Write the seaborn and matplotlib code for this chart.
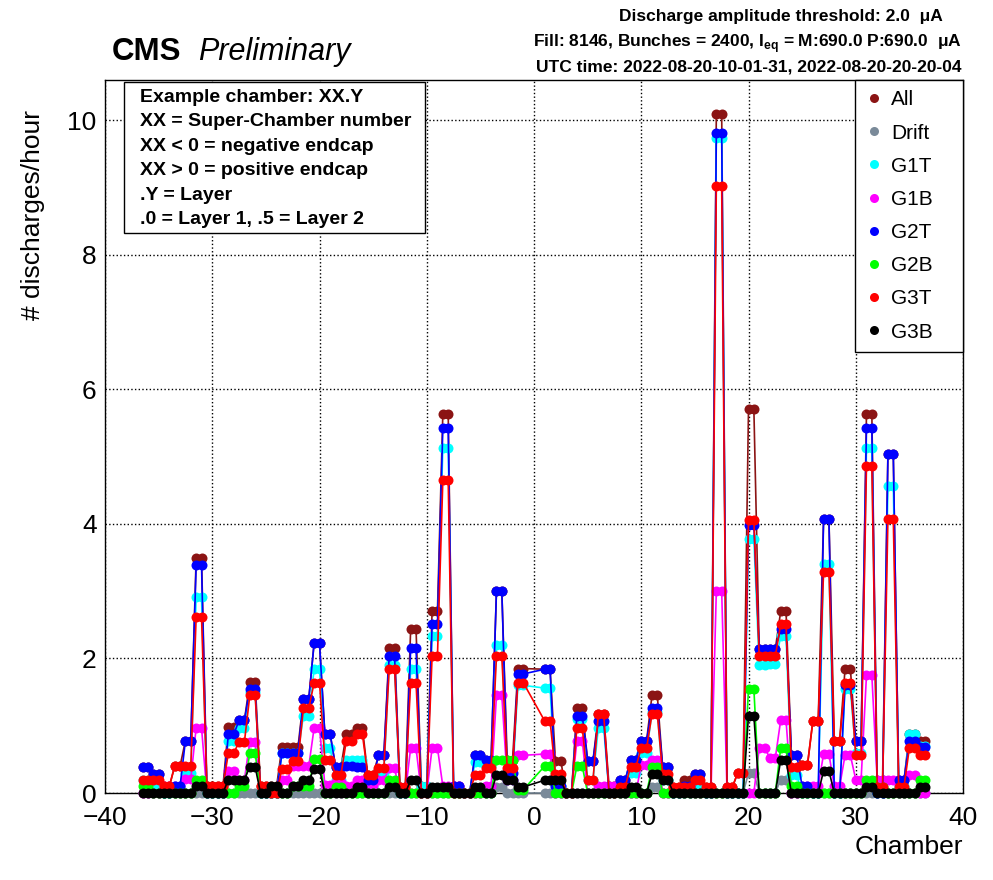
import pandas as pd
import matplotlib
matplotlib.use("Agg")
import matplotlib.pyplot as plt
import seaborn as sns
from matplotlib.lines import Line2D
from matplotlib.patches import Rectangle
from matplotlib.ticker import MultipleLocator

# chamber positions: SC -36..-1 -> (-n-0.5, -n), SC 1..36 -> (n, n+0.5)
chamber = [v for n in range(36, 0, -1) for v in (-n - 0.5, -n)] + \
          [v for n in range(1, 37) for v in (n, n + 0.5)]

# discharges/hour, two layers per super-chamber, 6 super-chambers per row
all_rate = [
    0.38, 0.38, 0.28, 0.28, 0.10, 0.10, 0.40, 0.40, 0.78, 0.78, 3.50, 3.50,
    0.10, 0.10, 0.10, 0.10, 0.98, 0.98, 1.08, 1.08, 1.65, 1.65, 0.10, 0.10,
    0.10, 0.10, 0.69, 0.69, 0.69, 0.69, 1.40, 1.40, 2.23, 2.23, 0.87, 0.87,
    0.39, 0.39, 0.88, 0.88, 0.97, 0.97, 0.27, 0.27, 0.56, 0.56, 2.15, 2.15,
    0.09, 0.09, 2.44, 2.44, 0.10, 0.10, 2.71, 2.71, 5.64, 5.64, 0.10, 0.10,
    0.00, 0.00, 0.56, 0.56, 0.49, 0.49, 3.00, 3.00, 0.49, 0.49, 1.85, 1.85,
    1.84, 1.84, 0.48, 0.48, 0.00, 0.00, 1.27, 1.27, 0.48, 0.48, 1.17, 1.17,
    0.10, 0.10, 0.19, 0.19, 0.49, 0.49, 0.78, 0.78, 1.45, 1.45, 0.38, 0.38,
    0.09, 0.09, 0.19, 0.19, 0.28, 0.28, 0.09, 0.09, 10.1, 10.1, 0.09, 0.09,
    0.30, 0.30, 5.71, 5.71, 2.14, 2.14, 2.14, 2.14, 2.70, 2.70, 0.57, 0.57,
    0.42, 0.42, 1.07, 1.07, 4.07, 4.07, 0.78, 0.78, 1.84, 1.84, 0.78, 0.78,
    5.64, 5.64, 0.19, 0.19, 5.04, 5.04, 0.19, 0.19, 0.88, 0.88, 0.78, 0.78,
]
drift = [
    0, 0, 0, 0, 0, 0, 0, 0, 0, 0, 0, 0,
    0, 0, 0, 0, 0, 0, 0, 0, 0, 0, 0, 0,
    0, 0, 0, 0, 0, 0, 0, 0, 0, 0, 0, 0,
    0, 0, 0, 0, 0, 0, 0, 0, 0, 0, 0, 0,
    0, 0, 0, 0, 0, 0, 0, 0, 0, 0, 0, 0,
    0, 0, 0, 0, 0, 0, 0.09, 0.09, 0, 0, 0, 0,
    0, 0, 0, 0, 0, 0, 0, 0, 0, 0, 0, 0,
    0, 0, 0, 0, 0, 0, 0, 0, 0.09, 0.09, 0, 0,
    0, 0, 0, 0, 0, 0, 0, 0, 0, 0, 0, 0,
    0, 0, 0.30, 0.30, 0, 0, 0, 0, 0.20, 0.20, 0, 0,
    0, 0, 0, 0, 0, 0, 0, 0, 0, 0, 0, 0,
    0, 0, 0, 0, 0, 0, 0, 0, 0, 0, 0, 0,
]
g1t = [
    0.20, 0.20, 0.10, 0.10, 0.00, 0.00, 0.10, 0.10, 0.29, 0.29, 2.91, 2.91,
    0.00, 0.00, 0.00, 0.00, 0.78, 0.78, 0.97, 0.97, 1.50, 1.50, 0.00, 0.00,
    0.00, 0.00, 0.59, 0.59, 0.59, 0.59, 1.15, 1.15, 1.84, 1.84, 0.67, 0.67,
    0.20, 0.20, 0.49, 0.49, 0.49, 0.49, 0.10, 0.10, 0.30, 0.30, 1.90, 1.90,
    0.00, 0.00, 1.85, 1.85, 0.10, 0.10, 2.33, 2.33, 5.13, 5.13, 0.00, 0.00,
    0.00, 0.00, 0.46, 0.46, 0.40, 0.40, 2.20, 2.20, 0.20, 0.20, 1.60, 1.60,
    1.56, 1.56, 0.10, 0.10, 0.00, 0.00, 1.10, 1.10, 0.20, 0.20, 0.97, 0.97,
    0.00, 0.00, 0.10, 0.10, 0.30, 0.30, 0.60, 0.60, 1.20, 1.20, 0.20, 0.20,
    0.00, 0.00, 0.00, 0.00, 0.10, 0.10, 0.00, 0.00, 9.74, 9.74, 0.00, 0.00,
    0.00, 0.00, 3.77, 3.77, 1.90, 1.90, 1.92, 1.92, 2.33, 2.33, 0.27, 0.27,
    0.00, 0.00, 0.00, 0.00, 3.40, 3.40, 0.00, 0.00, 1.54, 1.54, 0.60, 0.60,
    5.13, 5.13, 0.00, 0.00, 4.56, 4.56, 0.10, 0.10, 0.88, 0.88, 0.70, 0.70,
]
g1b = [
    0.00, 0.00, 0.00, 0.00, 0.10, 0.10, 0.10, 0.10, 0.21, 0.21, 0.97, 0.97,
    0.00, 0.00, 0.00, 0.00, 0.33, 0.33, 0.20, 0.20, 0.76, 0.76, 0.00, 0.00,
    0.00, 0.00, 0.20, 0.20, 0.40, 0.40, 0.40, 0.40, 0.97, 0.97, 0.12, 0.12,
    0.17, 0.17, 0.10, 0.10, 0.19, 0.19, 0.10, 0.10, 0.19, 0.19, 0.37, 0.37,
    0.00, 0.00, 0.67, 0.67, 0.00, 0.00, 0.67, 0.67, 0.10, 0.10, 0.10, 0.10,
    0.00, 0.00, 0.00, 0.00, 0.10, 0.10, 1.45, 1.45, 0.20, 0.20, 0.56, 0.56,
    0.58, 0.58, 0.00, 0.00, 0.00, 0.00, 0.78, 0.78, 0.00, 0.00, 0.10, 0.10,
    0.10, 0.10, 0.00, 0.00, 0.00, 0.00, 0.42, 0.42, 0.49, 0.49, 0.00, 0.00,
    0.00, 0.00, 0.00, 0.00, 0.00, 0.00, 0.00, 0.00, 3.00, 3.00, 0.00, 0.00,
    0.00, 0.00, 0.00, 0.00, 0.67, 0.67, 0.52, 0.52, 1.08, 1.08, 0.00, 0.00,
    0.10, 0.10, 0.10, 0.10, 0.58, 0.58, 0.10, 0.10, 0.56, 0.56, 0.20, 0.20,
    1.75, 1.75, 0.19, 0.19, 0.19, 0.19, 0.00, 0.00, 0.27, 0.27, 0.00, 0.00,
]
g2t = [
    0.38, 0.38, 0.28, 0.28, 0.00, 0.00, 0.10, 0.10, 0.78, 0.78, 3.39, 3.39,
    0.00, 0.00, 0.00, 0.00, 0.87, 0.87, 1.08, 1.08, 1.55, 1.55, 0.00, 0.00,
    0.00, 0.00, 0.59, 0.59, 0.60, 0.60, 1.40, 1.40, 2.23, 2.23, 0.87, 0.87,
    0.39, 0.39, 0.40, 0.40, 0.39, 0.39, 0.20, 0.20, 0.56, 0.56, 2.04, 2.04,
    0.00, 0.00, 2.15, 2.15, 0.00, 0.00, 2.51, 2.51, 5.43, 5.43, 0.10, 0.10,
    0.00, 0.00, 0.56, 0.56, 0.49, 0.49, 3.00, 3.00, 0.30, 0.30, 1.77, 1.77,
    1.84, 1.84, 0.10, 0.10, 0.00, 0.00, 1.15, 1.15, 0.48, 0.48, 1.07, 1.07,
    0.00, 0.00, 0.19, 0.19, 0.49, 0.49, 0.78, 0.78, 1.27, 1.27, 0.38, 0.38,
    0.00, 0.00, 0.10, 0.10, 0.28, 0.28, 0.00, 0.00, 9.81, 9.81, 0.00, 0.00,
    0.00, 0.00, 3.98, 3.98, 2.14, 2.14, 2.14, 2.14, 2.44, 2.44, 0.57, 0.57,
    0.10, 0.10, 0.00, 0.00, 4.07, 4.07, 0.00, 0.00, 1.60, 1.60, 0.78, 0.78,
    5.43, 5.43, 0.00, 0.00, 5.04, 5.04, 0.19, 0.19, 0.78, 0.78, 0.68, 0.68,
]
g2b = [
    0.10, 0.10, 0.00, 0.00, 0.00, 0.00, 0.00, 0.00, 0.00, 0.00, 0.20, 0.20,
    0.00, 0.00, 0.00, 0.00, 0.00, 0.00, 0.10, 0.10, 0.59, 0.59, 0.00, 0.00,
    0.00, 0.00, 0.00, 0.00, 0.10, 0.10, 0.10, 0.10, 0.50, 0.50, 0.00, 0.00,
    0.09, 0.09, 0.00, 0.00, 0.00, 0.00, 0.00, 0.00, 0.00, 0.00, 0.20, 0.20,
    0.00, 0.00, 0.00, 0.00, 0.00, 0.00, 0.00, 0.00, 0.00, 0.00, 0.00, 0.00,
    0.00, 0.00, 0.00, 0.00, 0.00, 0.00, 0.49, 0.49, 0.49, 0.49, 0.05, 0.05,
    0.40, 0.40, 0.00, 0.00, 0.00, 0.00, 0.40, 0.40, 0.00, 0.00, 0.00, 0.00,
    0.00, 0.00, 0.00, 0.00, 0.00, 0.00, 0.00, 0.00, 0.38, 0.38, 0.00, 0.00,
    0.00, 0.00, 0.00, 0.00, 0.00, 0.00, 0.00, 0.00, 0.00, 0.00, 0.00, 0.00,
    0.00, 0.00, 1.55, 1.55, 0.00, 0.00, 0.00, 0.00, 0.67, 0.67, 0.10, 0.10,
    0.00, 0.00, 0.00, 0.00, 0.00, 0.00, 0.00, 0.00, 0.00, 0.00, 0.00, 0.00,
    0.20, 0.20, 0.09, 0.09, 0.00, 0.00, 0.00, 0.00, 0.00, 0.00, 0.19, 0.19,
]
g3t = [
    0.20, 0.20, 0.20, 0.20, 0.10, 0.10, 0.40, 0.40, 0.40, 0.40, 2.62, 2.62,
    0.10, 0.10, 0.10, 0.10, 0.59, 0.59, 0.76, 0.76, 1.45, 1.45, 0.10, 0.10,
    0.00, 0.00, 0.36, 0.36, 0.48, 0.48, 1.26, 1.26, 1.64, 1.64, 0.49, 0.49,
    0.27, 0.27, 0.78, 0.78, 0.87, 0.87, 0.27, 0.27, 0.37, 0.37, 1.85, 1.85,
    0.09, 0.09, 1.64, 1.64, 0.00, 0.00, 2.04, 2.04, 4.65, 4.65, 0.00, 0.00,
    0.00, 0.00, 0.27, 0.27, 0.37, 0.37, 2.03, 2.03, 0.37, 0.37, 1.64, 1.64,
    1.07, 1.07, 0.28, 0.28, 0.00, 0.00, 0.97, 0.97, 0.19, 0.19, 1.17, 1.17,
    0.00, 0.00, 0.09, 0.09, 0.39, 0.39, 0.67, 0.67, 1.17, 1.17, 0.28, 0.28,
    0.09, 0.09, 0.09, 0.09, 0.19, 0.19, 0.09, 0.09, 9.02, 9.02, 0.09, 0.09,
    0.30, 0.30, 4.06, 4.06, 2.03, 2.03, 2.03, 2.03, 2.51, 2.51, 0.38, 0.38,
    0.42, 0.42, 1.07, 1.07, 3.29, 3.29, 0.78, 0.78, 1.64, 1.64, 0.56, 0.56,
    4.86, 4.86, 0.09, 0.09, 4.07, 4.07, 0.09, 0.09, 0.67, 0.67, 0.56, 0.56,
]
g3b = [
    0.00, 0.00, 0.00, 0.00, 0.00, 0.00, 0.00, 0.00, 0.00, 0.00, 0.10, 0.10,
    0.00, 0.00, 0.00, 0.00, 0.20, 0.20, 0.20, 0.20, 0.39, 0.39, 0.00, 0.00,
    0.10, 0.10, 0.00, 0.00, 0.10, 0.10, 0.19, 0.19, 0.35, 0.35, 0.00, 0.00,
    0.00, 0.00, 0.00, 0.00, 0.09, 0.09, 0.00, 0.00, 0.00, 0.00, 0.09, 0.09,
    0.00, 0.00, 0.19, 0.19, 0.00, 0.00, 0.09, 0.09, 0.09, 0.09, 0.00, 0.00,
    0.00, 0.00, 0.09, 0.09, 0.00, 0.00, 0.27, 0.27, 0.19, 0.19, 0.09, 0.09,
    0.19, 0.19, 0.19, 0.19, 0.00, 0.00, 0.00, 0.00, 0.00, 0.00, 0.00, 0.00,
    0.00, 0.00, 0.00, 0.00, 0.09, 0.09, 0.00, 0.00, 0.28, 0.28, 0.19, 0.19,
    0.00, 0.00, 0.00, 0.00, 0.00, 0.00, 0.00, 0.00, 0.00, 0.00, 0.00, 0.00,
    0.00, 0.00, 1.15, 1.15, 0.00, 0.00, 0.00, 0.00, 0.49, 0.49, 0.00, 0.00,
    0.00, 0.00, 0.00, 0.00, 0.33, 0.33, 0.00, 0.00, 0.00, 0.00, 0.00, 0.00,
    0.09, 0.09, 0.00, 0.00, 0.00, 0.00, 0.00, 0.00, 0.00, 0.00, 0.09, 0.09,
]

series = ["All", "Drift", "G1T", "G1B", "G2T", "G2B", "G3T", "G3B"]
colors = ["#8b1414", "#7a8a99", "#00ffff", "#ff00ff", "#0000ff", "#00ff00", "#ff0000", "#000000"]

df = pd.DataFrame({"chamber": chamber, "All": all_rate, "Drift": drift,
                   "G1T": g1t, "G1B": g1b, "G2T": g2t, "G2B": g2b,
                   "G3T": g3t, "G3B": g3b})

sns.set_theme(style="white")
plt.rcParams["font.family"] = ["Liberation Sans", "DejaVu Sans"]
plt.rcParams["text.color"] = "black"
plt.rcParams["mathtext.fontset"] = "custom"
plt.rcParams["mathtext.rm"] = "Liberation Sans"
plt.rcParams["mathtext.bf"] = "Liberation Sans:bold"

fig = plt.figure(figsize=(9.93, 8.8), dpi=100)
ax = fig.add_axes([0.10574, 0.09886, 0.86405, 0.81023])

for k, (name, c) in enumerate(zip(series, colors)):
    sns.lineplot(data=df, x="chamber", y=name, color=c, linewidth=1.2,
                 marker="o", markersize=7.2, markeredgewidth=0,
                 ax=ax, legend=False, zorder=3 + k, clip_on=False)

ax.set_xlim(-40, 40)
ax.set_ylim(0, 10.6)
ax.xaxis.set_major_locator(MultipleLocator(10))
ax.xaxis.set_minor_locator(MultipleLocator(2))
ax.yaxis.set_major_locator(MultipleLocator(2))
ax.yaxis.set_minor_locator(MultipleLocator(0.5))
ax.tick_params(axis="both", which="both", direction="in", colors="black",
               labelsize=19, top=False, right=False)
ax.tick_params(axis="x", which="major", length=14, width=1, pad=9)
ax.tick_params(axis="x", which="minor", length=7, width=1)
ax.tick_params(axis="y", which="major", length=16, width=1, pad=6)
ax.tick_params(axis="y", which="minor", length=12, width=1)
ax.grid(True, which="major", linestyle=":", color="black", linewidth=1)
ax.set_axisbelow(True)
for s in ax.spines.values():
    s.set_color("black")
    s.set_linewidth(1)
ax.set_xlabel("")
ax.set_ylabel("")

fig.text(33 / 993, 1 - 110 / 880, "# discharges/hour", rotation=90,
         ha="center", va="top", fontsize=19)
fig.text(963 / 993, 1 - 847 / 880, "Chamber", ha="right", va="center", fontsize=19)

# CMS label and run info
fig.text(112 / 993, 1 - 60 / 880, "CMS", fontsize=22.5, weight="bold", va="baseline")
fig.text(198 / 993, 1 - 60 / 880, "Preliminary", fontsize=22, style="italic", va="baseline")
fig.text(943 / 993, 1 - 21 / 880, "Discharge amplitude threshold: 2.0  μA",
         fontsize=12.5, weight="bold", ha="right", va="baseline")
fig.text(962 / 993, 1 - 47 / 880,
         r"Fill: 8146, Bunches = 2400, I$_{\mathbf{eq}}$ = M:690.0 P:690.0  μA",
         fontsize=12.5, weight="bold", ha="right", va="baseline")
fig.text(962 / 993, 1 - 72 / 880, "UTC time: 2022-08-20-10-01-31, 2022-08-20-20-20-04",
         fontsize=12.5, weight="bold", ha="right", va="baseline")

# explanation box
ax.add_patch(Rectangle((0.0221, 0.7854), 0.3508, 0.2118, transform=ax.transAxes,
                       facecolor="white", edgecolor="black", linewidth=1, zorder=15))
box_lines = ["Example chamber: XX.Y", "XX = Super-Chamber number",
             "XX < 0 = negative endcap", "XX > 0 = positive endcap",
             ".Y = Layer", ".0 = Layer 1, .5 = Layer 2"]
for i, line in enumerate(box_lines):
    ypx = 97 + 24.5 * i
    ax.text(0.0408, (793 - ypx) / 713, line, transform=ax.transAxes,
            fontsize=14, weight="bold", va="center", ha="left", zorder=16)

handles = [Line2D([], [], linestyle="none", marker="o", markersize=6.5,
                  markeredgewidth=0, color=c) for c in colors]
leg = ax.legend(handles, series, loc="upper left", bbox_to_anchor=(0.874, 0, 0.126, 1.0),
                mode="expand", borderaxespad=0, fontsize=15, labelspacing=0.68,
                handlelength=0.8, handletextpad=0.45, borderpad=0.5,
                frameon=True, fancybox=False, edgecolor="black", framealpha=1)
leg.get_frame().set_linewidth(1)
leg.set_zorder(20)

fig.savefig("out.png", dpi=100)
